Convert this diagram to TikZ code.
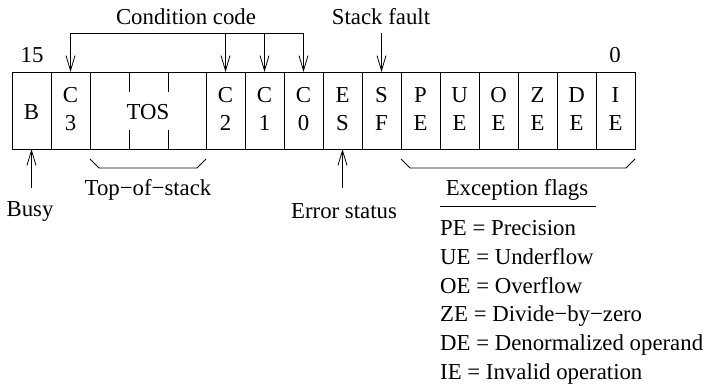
\documentclass[tikz,border=0pt]{standalone}
\usepackage{fontspec}
\setmainfont{Liberation Serif}
\usetikzlibrary{arrows.meta}
\begin{document}
\begin{tikzpicture}[x=1pt,y=-1pt,
  every node/.style={font=\fontsize{22.8}{28}\selectfont, inner sep=0pt},
  ln/.style={line width=0.8pt},
  arr/.style={ln, -{Straight Barb[length=15pt,width=9pt,line width=0.8pt]}},
  cell/.style={align=center},
  lbl/.style={anchor=center},
  item/.style={anchor=west}]
\useasboundingbox (0,0) rectangle (711,386);
% register outline
\draw[ln] (12,72) rectangle (635,149);
\foreach \x in {51,90,206,245,284,323,362,401,440,479,518,557,596}
  \draw[ln] (\x,72) -- (\x,149);
\foreach \x in {129,168} {
  \draw[ln] (\x,72) -- (\x,92);
  \draw[ln] (\x,130) -- (\x,149);
}
% cell texts
\node[cell] (B)  at (31.5,112) {B};
\node[cell] (C3) at (70.5,109) {C\\3};
\node[cell] (TOS) at (148,112) {TOS};
\node[cell] (C2) at (225.5,109) {C\\2};
\node[cell] (C1) at (264.5,109) {C\\1};
\node[cell] (C0) at (303.5,109) {C\\0};
\node[cell] (ES) at (342.5,109) {E\\S};
\node[cell] (SF) at (381.5,109) {S\\F};
\node[cell] (PE) at (420.5,109) {P\\E};
\node[cell] (UE) at (459.5,109) {U\\E};
\node[cell] (OE) at (498.5,109) {O\\E};
\node[cell] (ZE) at (537.5,109) {Z\\E};
\node[cell] (DE) at (576.5,109) {D\\E};
\node[cell] (IE) at (615.5,109) {I\\E};
% bit numbers
\node[lbl] (n15) at (32,55) {15};
\node[lbl] (n0) at (615,55) {0};
% condition code
\node[lbl] (cc) at (186,17) {Condition code};
\coordinate (ccL) at (70.5,33);
\coordinate (ccR) at (303.5,33);
\draw[ln] (ccL) -- (ccR);
\draw[arr] (ccL) -- (70.5,72);
\draw[arr] (225.5,33) -- (225.5,72);
\draw[arr] (264.5,33) -- (264.5,72);
\draw[arr] (ccR) -- (303.5,72);
% stack fault
\node[lbl] (sf) at (381,17) {Stack fault};
\draw[arr] (381.5,33) -- (381.5,72);
% busy / error status
\node[lbl] (busy) at (30,211) {Busy};
\draw[arr] (31.5,188) -- (31.5,149);
\node[lbl] (es) at (344,211) {Error status};
\draw[arr] (342.5,188) -- (342.5,149);
% top of stack brace
\draw[ln] (90,159) -- (99,168) -- (197,168) -- (206,159);
\node[lbl] (tos) at (148,190) {Top−of−stack};
% exception flags brace
\draw[ln] (401,159) -- (410,168) -- (626,168) -- (635,159);
\node[lbl] (ef) at (517,190) {Exception flags};
\draw[ln] (440,206) -- (596,206);
% legend
\node[item] (l1) at (440,228) {PE = Precision};
\node[item] (l2) at (440,257) {UE = Underflow};
\node[item] (l3) at (440,286) {OE = Overflow};
\node[item] (l4) at (440,316) {ZE = Divide−by−zero};
\node[item] (l5) at (440,345) {DE = Denormalized operand};
\node[item] (l6) at (440,374) {IE = Invalid operation};
\end{tikzpicture}
\end{document}
